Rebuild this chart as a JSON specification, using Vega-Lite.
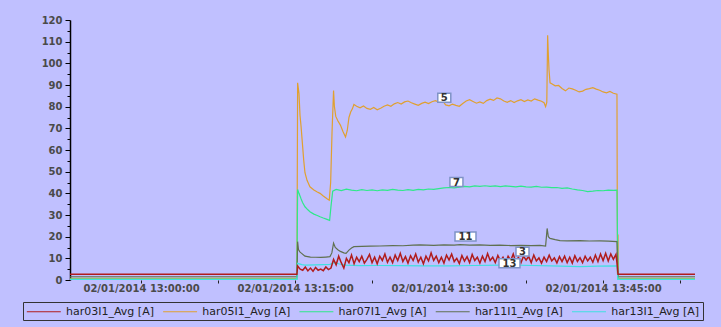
{
  "$schema": "https://vega.github.io/schema/vega-lite/v6.json",
  "width": 625,
  "height": 260,
  "autosize": {"type": "none"},
  "padding": {"left": 70, "top": 20, "right": 26, "bottom": 47},
  "background": "#c0c0ff",
  "config": {
    "view": {"stroke": null},
    "font": "DejaVu Sans"
  },
  "datasets": {
    "h03": [
      {"t": "2014-01-02T12:53:05", "v": 2.6},
      {"t": "2014-01-02T13:15:11", "v": 2.6},
      {"t": "2014-01-02T13:15:15", "v": 6.5},
      {"t": "2014-01-02T13:15:30", "v": 5},
      {"t": "2014-01-02T13:15:45", "v": 4.5},
      {"t": "2014-01-02T13:16:00", "v": 6},
      {"t": "2014-01-02T13:16:15", "v": 4.2},
      {"t": "2014-01-02T13:16:30", "v": 5.5},
      {"t": "2014-01-02T13:16:45", "v": 4},
      {"t": "2014-01-02T13:17:00", "v": 5.8},
      {"t": "2014-01-02T13:17:15", "v": 4.5},
      {"t": "2014-01-02T13:17:30", "v": 5},
      {"t": "2014-01-02T13:17:45", "v": 4.3},
      {"t": "2014-01-02T13:18:00", "v": 6},
      {"t": "2014-01-02T13:18:15", "v": 4.8},
      {"t": "2014-01-02T13:18:30", "v": 5.5},
      {"t": "2014-01-02T13:18:45", "v": 9.5},
      {"t": "2014-01-02T13:19:00", "v": 7},
      {"t": "2014-01-02T13:19:15", "v": 11},
      {"t": "2014-01-02T13:19:30", "v": 8},
      {"t": "2014-01-02T13:19:45", "v": 5.5},
      {"t": "2014-01-02T13:20:00", "v": 10},
      {"t": "2014-01-02T13:20:15", "v": 8},
      {"t": "2014-01-02T13:20:30", "v": 11.5},
      {"t": "2014-01-02T13:20:45", "v": 7.5},
      {"t": "2014-01-02T13:21:00", "v": 10.5},
      {"t": "2014-01-02T13:21:15", "v": 8.5},
      {"t": "2014-01-02T13:21:30", "v": 11},
      {"t": "2014-01-02T13:21:45", "v": 7.8},
      {"t": "2014-01-02T13:22:00", "v": 9.5},
      {"t": "2014-01-02T13:22:15", "v": 11.8},
      {"t": "2014-01-02T13:22:30", "v": 8},
      {"t": "2014-01-02T13:22:45", "v": 10.5},
      {"t": "2014-01-02T13:23:00", "v": 7.5},
      {"t": "2014-01-02T13:23:15", "v": 11},
      {"t": "2014-01-02T13:23:30", "v": 9},
      {"t": "2014-01-02T13:23:45", "v": 12},
      {"t": "2014-01-02T13:24:00", "v": 8.2},
      {"t": "2014-01-02T13:24:15", "v": 10.5},
      {"t": "2014-01-02T13:24:30", "v": 8},
      {"t": "2014-01-02T13:24:45", "v": 11.5},
      {"t": "2014-01-02T13:25:00", "v": 9},
      {"t": "2014-01-02T13:25:15", "v": 12.3},
      {"t": "2014-01-02T13:25:30", "v": 8.5},
      {"t": "2014-01-02T13:25:45", "v": 10.8},
      {"t": "2014-01-02T13:26:00", "v": 7.8},
      {"t": "2014-01-02T13:26:15", "v": 11.2},
      {"t": "2014-01-02T13:26:30", "v": 9},
      {"t": "2014-01-02T13:26:45", "v": 12},
      {"t": "2014-01-02T13:27:00", "v": 8.3},
      {"t": "2014-01-02T13:27:15", "v": 10.5},
      {"t": "2014-01-02T13:27:30", "v": 7.5},
      {"t": "2014-01-02T13:27:45", "v": 11},
      {"t": "2014-01-02T13:28:00", "v": 8.8},
      {"t": "2014-01-02T13:28:15", "v": 12.5},
      {"t": "2014-01-02T13:28:30", "v": 9},
      {"t": "2014-01-02T13:28:45", "v": 11},
      {"t": "2014-01-02T13:29:00", "v": 8},
      {"t": "2014-01-02T13:29:15", "v": 10.5},
      {"t": "2014-01-02T13:29:30", "v": 7.8},
      {"t": "2014-01-02T13:29:45", "v": 11.5},
      {"t": "2014-01-02T13:30:00", "v": 9.2},
      {"t": "2014-01-02T13:30:15", "v": 12},
      {"t": "2014-01-02T13:30:30", "v": 8.5},
      {"t": "2014-01-02T13:30:45", "v": 10},
      {"t": "2014-01-02T13:31:00", "v": 7.6},
      {"t": "2014-01-02T13:31:15", "v": 11.3},
      {"t": "2014-01-02T13:31:30", "v": 8.7},
      {"t": "2014-01-02T13:31:45", "v": 10.8},
      {"t": "2014-01-02T13:32:00", "v": 8},
      {"t": "2014-01-02T13:32:15", "v": 11.8},
      {"t": "2014-01-02T13:32:30", "v": 9},
      {"t": "2014-01-02T13:32:45", "v": 10.5},
      {"t": "2014-01-02T13:33:00", "v": 7.8},
      {"t": "2014-01-02T13:33:15", "v": 11},
      {"t": "2014-01-02T13:33:30", "v": 8.5},
      {"t": "2014-01-02T13:33:45", "v": 12.2},
      {"t": "2014-01-02T13:34:00", "v": 9},
      {"t": "2014-01-02T13:34:15", "v": 10.5},
      {"t": "2014-01-02T13:34:30", "v": 8},
      {"t": "2014-01-02T13:34:45", "v": 11.3},
      {"t": "2014-01-02T13:35:00", "v": 8.8},
      {"t": "2014-01-02T13:35:15", "v": 10.5},
      {"t": "2014-01-02T13:35:30", "v": 7.8},
      {"t": "2014-01-02T13:35:45", "v": 11},
      {"t": "2014-01-02T13:36:00", "v": 9},
      {"t": "2014-01-02T13:36:15", "v": 12},
      {"t": "2014-01-02T13:36:30", "v": 8.3},
      {"t": "2014-01-02T13:36:45", "v": 10.5},
      {"t": "2014-01-02T13:37:00", "v": 7.9},
      {"t": "2014-01-02T13:37:15", "v": 11},
      {"t": "2014-01-02T13:37:30", "v": 9.2},
      {"t": "2014-01-02T13:37:45", "v": 10.8},
      {"t": "2014-01-02T13:38:00", "v": 8},
      {"t": "2014-01-02T13:38:15", "v": 11.5},
      {"t": "2014-01-02T13:38:30", "v": 8.8},
      {"t": "2014-01-02T13:38:45", "v": 10.2},
      {"t": "2014-01-02T13:39:00", "v": 7.8},
      {"t": "2014-01-02T13:39:15", "v": 10.5},
      {"t": "2014-01-02T13:39:30", "v": 8.5},
      {"t": "2014-01-02T13:39:45", "v": 11.5},
      {"t": "2014-01-02T13:40:00", "v": 8.8},
      {"t": "2014-01-02T13:40:15", "v": 10.2},
      {"t": "2014-01-02T13:40:30", "v": 7.9},
      {"t": "2014-01-02T13:40:45", "v": 10.8},
      {"t": "2014-01-02T13:41:00", "v": 8.5},
      {"t": "2014-01-02T13:41:15", "v": 11},
      {"t": "2014-01-02T13:41:30", "v": 8},
      {"t": "2014-01-02T13:41:45", "v": 10.5},
      {"t": "2014-01-02T13:42:00", "v": 7.8},
      {"t": "2014-01-02T13:42:15", "v": 11.2},
      {"t": "2014-01-02T13:42:30", "v": 8.6},
      {"t": "2014-01-02T13:42:45", "v": 10.3},
      {"t": "2014-01-02T13:43:00", "v": 8},
      {"t": "2014-01-02T13:43:15", "v": 11},
      {"t": "2014-01-02T13:43:30", "v": 8.8},
      {"t": "2014-01-02T13:43:45", "v": 10.5},
      {"t": "2014-01-02T13:44:00", "v": 8.2},
      {"t": "2014-01-02T13:44:15", "v": 11.5},
      {"t": "2014-01-02T13:44:30", "v": 8.5},
      {"t": "2014-01-02T13:44:45", "v": 12},
      {"t": "2014-01-02T13:45:00", "v": 9},
      {"t": "2014-01-02T13:45:15", "v": 12.3},
      {"t": "2014-01-02T13:45:30", "v": 8.8},
      {"t": "2014-01-02T13:45:45", "v": 12},
      {"t": "2014-01-02T13:46:00", "v": 9.5},
      {"t": "2014-01-02T13:46:15", "v": 11.8},
      {"t": "2014-01-02T13:46:21", "v": 8},
      {"t": "2014-01-02T13:46:27", "v": 2.6},
      {"t": "2014-01-02T13:53:57", "v": 2.6}
    ],
    "h05": [
      {"t": "2014-01-02T12:53:05", "v": 0.8},
      {"t": "2014-01-02T13:15:11", "v": 0.8},
      {"t": "2014-01-02T13:15:15", "v": 91},
      {"t": "2014-01-02T13:15:23", "v": 86},
      {"t": "2014-01-02T13:15:29", "v": 76},
      {"t": "2014-01-02T13:15:35", "v": 71},
      {"t": "2014-01-02T13:15:44", "v": 62},
      {"t": "2014-01-02T13:15:51", "v": 55},
      {"t": "2014-01-02T13:15:58", "v": 49.5},
      {"t": "2014-01-02T13:16:10", "v": 46},
      {"t": "2014-01-02T13:16:27", "v": 43},
      {"t": "2014-01-02T13:16:50", "v": 41.5},
      {"t": "2014-01-02T13:17:10", "v": 40.6},
      {"t": "2014-01-02T13:17:26", "v": 40},
      {"t": "2014-01-02T13:17:45", "v": 38.8},
      {"t": "2014-01-02T13:18:07", "v": 37.5},
      {"t": "2014-01-02T13:18:20", "v": 36.8},
      {"t": "2014-01-02T13:18:28", "v": 45},
      {"t": "2014-01-02T13:18:36", "v": 68},
      {"t": "2014-01-02T13:18:45", "v": 87.5},
      {"t": "2014-01-02T13:18:50", "v": 80},
      {"t": "2014-01-02T13:18:58", "v": 75.5},
      {"t": "2014-01-02T13:19:10", "v": 73.5},
      {"t": "2014-01-02T13:19:25", "v": 71.5},
      {"t": "2014-01-02T13:19:40", "v": 68.5},
      {"t": "2014-01-02T13:19:55", "v": 66},
      {"t": "2014-01-02T13:20:05", "v": 69},
      {"t": "2014-01-02T13:20:15", "v": 75},
      {"t": "2014-01-02T13:20:25", "v": 77.5},
      {"t": "2014-01-02T13:20:35", "v": 79},
      {"t": "2014-01-02T13:20:44", "v": 81},
      {"t": "2014-01-02T13:21:00", "v": 80.2},
      {"t": "2014-01-02T13:21:20", "v": 79.5},
      {"t": "2014-01-02T13:21:40", "v": 80.3},
      {"t": "2014-01-02T13:22:00", "v": 79.2},
      {"t": "2014-01-02T13:22:20", "v": 78.8},
      {"t": "2014-01-02T13:22:40", "v": 79.6},
      {"t": "2014-01-02T13:23:00", "v": 78.6},
      {"t": "2014-01-02T13:23:20", "v": 79.3},
      {"t": "2014-01-02T13:23:40", "v": 80.2},
      {"t": "2014-01-02T13:24:00", "v": 80.8},
      {"t": "2014-01-02T13:24:20", "v": 80.2},
      {"t": "2014-01-02T13:24:40", "v": 81.3},
      {"t": "2014-01-02T13:25:00", "v": 81.9},
      {"t": "2014-01-02T13:25:20", "v": 81.2},
      {"t": "2014-01-02T13:25:40", "v": 82.2},
      {"t": "2014-01-02T13:26:00", "v": 82.6},
      {"t": "2014-01-02T13:26:20", "v": 81.8},
      {"t": "2014-01-02T13:26:40", "v": 81.2},
      {"t": "2014-01-02T13:27:00", "v": 80.6},
      {"t": "2014-01-02T13:27:20", "v": 81.5},
      {"t": "2014-01-02T13:27:40", "v": 82.1},
      {"t": "2014-01-02T13:28:00", "v": 81.4},
      {"t": "2014-01-02T13:28:20", "v": 82.3},
      {"t": "2014-01-02T13:28:40", "v": 82.8},
      {"t": "2014-01-02T13:29:00", "v": 82.1},
      {"t": "2014-01-02T13:29:20", "v": 83},
      {"t": "2014-01-02T13:29:40", "v": 80.8},
      {"t": "2014-01-02T13:30:00", "v": 80.4},
      {"t": "2014-01-02T13:30:20", "v": 81.2},
      {"t": "2014-01-02T13:30:40", "v": 80.6},
      {"t": "2014-01-02T13:31:00", "v": 80.2},
      {"t": "2014-01-02T13:31:20", "v": 81.5},
      {"t": "2014-01-02T13:31:40", "v": 82.6},
      {"t": "2014-01-02T13:32:00", "v": 83.2},
      {"t": "2014-01-02T13:32:20", "v": 82.4},
      {"t": "2014-01-02T13:32:40", "v": 81.6},
      {"t": "2014-01-02T13:33:00", "v": 82.2},
      {"t": "2014-01-02T13:33:20", "v": 81.5},
      {"t": "2014-01-02T13:33:40", "v": 82.8},
      {"t": "2014-01-02T13:34:00", "v": 83.5},
      {"t": "2014-01-02T13:34:20", "v": 82.9},
      {"t": "2014-01-02T13:34:40", "v": 84},
      {"t": "2014-01-02T13:35:00", "v": 83.6},
      {"t": "2014-01-02T13:35:20", "v": 82.6},
      {"t": "2014-01-02T13:35:40", "v": 82},
      {"t": "2014-01-02T13:36:00", "v": 82.8},
      {"t": "2014-01-02T13:36:20", "v": 81.9},
      {"t": "2014-01-02T13:36:40", "v": 82.7},
      {"t": "2014-01-02T13:37:00", "v": 83.2},
      {"t": "2014-01-02T13:37:20", "v": 82.4},
      {"t": "2014-01-02T13:37:40", "v": 83.1},
      {"t": "2014-01-02T13:38:00", "v": 82.6},
      {"t": "2014-01-02T13:38:20", "v": 83.6},
      {"t": "2014-01-02T13:38:40", "v": 83},
      {"t": "2014-01-02T13:39:00", "v": 82.5},
      {"t": "2014-01-02T13:39:15", "v": 81.8},
      {"t": "2014-01-02T13:39:24", "v": 80},
      {"t": "2014-01-02T13:39:31", "v": 82},
      {"t": "2014-01-02T13:39:36", "v": 113},
      {"t": "2014-01-02T13:39:40", "v": 104},
      {"t": "2014-01-02T13:39:44", "v": 97},
      {"t": "2014-01-02T13:39:50", "v": 91},
      {"t": "2014-01-02T13:40:00", "v": 90.6},
      {"t": "2014-01-02T13:40:20", "v": 89.6},
      {"t": "2014-01-02T13:40:40", "v": 89.8},
      {"t": "2014-01-02T13:41:00", "v": 88.4},
      {"t": "2014-01-02T13:41:20", "v": 87.3},
      {"t": "2014-01-02T13:41:40", "v": 88.6},
      {"t": "2014-01-02T13:42:00", "v": 88.2},
      {"t": "2014-01-02T13:42:20", "v": 87.6},
      {"t": "2014-01-02T13:42:40", "v": 86.8},
      {"t": "2014-01-02T13:43:00", "v": 87.2},
      {"t": "2014-01-02T13:43:20", "v": 88},
      {"t": "2014-01-02T13:43:40", "v": 88.3},
      {"t": "2014-01-02T13:44:00", "v": 88.8},
      {"t": "2014-01-02T13:44:20", "v": 88.1},
      {"t": "2014-01-02T13:44:40", "v": 87.6},
      {"t": "2014-01-02T13:45:00", "v": 86.8},
      {"t": "2014-01-02T13:45:20", "v": 86.4},
      {"t": "2014-01-02T13:45:40", "v": 87},
      {"t": "2014-01-02T13:46:00", "v": 86.2},
      {"t": "2014-01-02T13:46:21", "v": 85.8},
      {"t": "2014-01-02T13:46:24", "v": 3},
      {"t": "2014-01-02T13:46:27", "v": 21},
      {"t": "2014-01-02T13:46:30", "v": 0.8},
      {"t": "2014-01-02T13:53:57", "v": 0.8}
    ],
    "h07": [
      {"t": "2014-01-02T12:53:05", "v": 0.4},
      {"t": "2014-01-02T13:15:11", "v": 0.4},
      {"t": "2014-01-02T13:15:15", "v": 41.8},
      {"t": "2014-01-02T13:15:23", "v": 40},
      {"t": "2014-01-02T13:15:35", "v": 37.5},
      {"t": "2014-01-02T13:15:44", "v": 35.8},
      {"t": "2014-01-02T13:15:58", "v": 33.8},
      {"t": "2014-01-02T13:16:15", "v": 32.4},
      {"t": "2014-01-02T13:16:27", "v": 31.5},
      {"t": "2014-01-02T13:16:50", "v": 30.4},
      {"t": "2014-01-02T13:17:10", "v": 29.8},
      {"t": "2014-01-02T13:17:26", "v": 29.2},
      {"t": "2014-01-02T13:17:45", "v": 28.6},
      {"t": "2014-01-02T13:18:07", "v": 28},
      {"t": "2014-01-02T13:18:22", "v": 27.5},
      {"t": "2014-01-02T13:18:30", "v": 34},
      {"t": "2014-01-02T13:18:40", "v": 41},
      {"t": "2014-01-02T13:19:00", "v": 41.8},
      {"t": "2014-01-02T13:19:30", "v": 41.3},
      {"t": "2014-01-02T13:20:00", "v": 41.9},
      {"t": "2014-01-02T13:20:30", "v": 41.5},
      {"t": "2014-01-02T13:21:00", "v": 41.2},
      {"t": "2014-01-02T13:21:30", "v": 41.7},
      {"t": "2014-01-02T13:22:00", "v": 41.3},
      {"t": "2014-01-02T13:22:30", "v": 41.6},
      {"t": "2014-01-02T13:23:00", "v": 41.2},
      {"t": "2014-01-02T13:23:30", "v": 41.6},
      {"t": "2014-01-02T13:24:00", "v": 41.4},
      {"t": "2014-01-02T13:24:30", "v": 41.8},
      {"t": "2014-01-02T13:25:00", "v": 41.5},
      {"t": "2014-01-02T13:25:30", "v": 41.3},
      {"t": "2014-01-02T13:26:00", "v": 41.7},
      {"t": "2014-01-02T13:26:30", "v": 41.4},
      {"t": "2014-01-02T13:27:00", "v": 41.8},
      {"t": "2014-01-02T13:27:30", "v": 41.6},
      {"t": "2014-01-02T13:28:00", "v": 42},
      {"t": "2014-01-02T13:28:30", "v": 41.8},
      {"t": "2014-01-02T13:29:00", "v": 42.2},
      {"t": "2014-01-02T13:29:30", "v": 42.5},
      {"t": "2014-01-02T13:30:00", "v": 42.7},
      {"t": "2014-01-02T13:30:30", "v": 42.5},
      {"t": "2014-01-02T13:31:00", "v": 42.9},
      {"t": "2014-01-02T13:31:30", "v": 43.2},
      {"t": "2014-01-02T13:32:00", "v": 43},
      {"t": "2014-01-02T13:32:30", "v": 43.4},
      {"t": "2014-01-02T13:33:00", "v": 43.2},
      {"t": "2014-01-02T13:33:30", "v": 43.5},
      {"t": "2014-01-02T13:34:00", "v": 43.2},
      {"t": "2014-01-02T13:34:30", "v": 43.4},
      {"t": "2014-01-02T13:35:00", "v": 43.1},
      {"t": "2014-01-02T13:35:30", "v": 43.4},
      {"t": "2014-01-02T13:36:00", "v": 43.2},
      {"t": "2014-01-02T13:36:30", "v": 43},
      {"t": "2014-01-02T13:37:00", "v": 43.3},
      {"t": "2014-01-02T13:37:30", "v": 43},
      {"t": "2014-01-02T13:38:00", "v": 42.9},
      {"t": "2014-01-02T13:38:30", "v": 43.2},
      {"t": "2014-01-02T13:39:00", "v": 42.8},
      {"t": "2014-01-02T13:39:30", "v": 42.9},
      {"t": "2014-01-02T13:40:00", "v": 42.6},
      {"t": "2014-01-02T13:40:30", "v": 42.7},
      {"t": "2014-01-02T13:41:00", "v": 42.3},
      {"t": "2014-01-02T13:41:30", "v": 42.5},
      {"t": "2014-01-02T13:42:00", "v": 42},
      {"t": "2014-01-02T13:42:30", "v": 41.6},
      {"t": "2014-01-02T13:43:00", "v": 41.3},
      {"t": "2014-01-02T13:43:30", "v": 40.8},
      {"t": "2014-01-02T13:44:00", "v": 41},
      {"t": "2014-01-02T13:44:30", "v": 41.3},
      {"t": "2014-01-02T13:45:00", "v": 41.2},
      {"t": "2014-01-02T13:45:30", "v": 41.5},
      {"t": "2014-01-02T13:46:00", "v": 41.4},
      {"t": "2014-01-02T13:46:21", "v": 41.5},
      {"t": "2014-01-02T13:46:27", "v": 0.4},
      {"t": "2014-01-02T13:53:57", "v": 0.4}
    ],
    "h11": [
      {"t": "2014-01-02T12:53:05", "v": 1.5},
      {"t": "2014-01-02T13:15:11", "v": 1.5},
      {"t": "2014-01-02T13:15:15", "v": 17.7},
      {"t": "2014-01-02T13:15:20", "v": 14},
      {"t": "2014-01-02T13:15:28", "v": 13},
      {"t": "2014-01-02T13:15:35", "v": 12.5},
      {"t": "2014-01-02T13:15:58", "v": 11},
      {"t": "2014-01-02T13:16:30", "v": 10.6},
      {"t": "2014-01-02T13:17:00", "v": 10.5},
      {"t": "2014-01-02T13:17:30", "v": 10.4},
      {"t": "2014-01-02T13:18:00", "v": 10.6},
      {"t": "2014-01-02T13:18:24", "v": 10.8},
      {"t": "2014-01-02T13:18:35", "v": 12.5},
      {"t": "2014-01-02T13:18:45", "v": 17},
      {"t": "2014-01-02T13:18:55", "v": 15},
      {"t": "2014-01-02T13:19:10", "v": 14},
      {"t": "2014-01-02T13:19:25", "v": 13.2},
      {"t": "2014-01-02T13:19:45", "v": 12.5},
      {"t": "2014-01-02T13:19:58", "v": 12.3},
      {"t": "2014-01-02T13:20:15", "v": 13.8},
      {"t": "2014-01-02T13:20:30", "v": 14.8},
      {"t": "2014-01-02T13:20:44", "v": 15.4},
      {"t": "2014-01-02T13:21:30", "v": 15.5},
      {"t": "2014-01-02T13:22:20", "v": 15.6},
      {"t": "2014-01-02T13:23:16", "v": 15.7},
      {"t": "2014-01-02T13:24:30", "v": 15.9},
      {"t": "2014-01-02T13:25:30", "v": 15.8},
      {"t": "2014-01-02T13:26:30", "v": 16.1},
      {"t": "2014-01-02T13:27:10", "v": 16.2},
      {"t": "2014-01-02T13:28:30", "v": 16},
      {"t": "2014-01-02T13:29:30", "v": 16.2},
      {"t": "2014-01-02T13:30:30", "v": 16.1},
      {"t": "2014-01-02T13:31:04", "v": 16.3},
      {"t": "2014-01-02T13:32:00", "v": 16.1},
      {"t": "2014-01-02T13:33:00", "v": 16.2},
      {"t": "2014-01-02T13:34:00", "v": 16},
      {"t": "2014-01-02T13:34:57", "v": 16.1},
      {"t": "2014-01-02T13:36:00", "v": 15.9},
      {"t": "2014-01-02T13:37:00", "v": 16},
      {"t": "2014-01-02T13:38:00", "v": 15.9},
      {"t": "2014-01-02T13:38:51", "v": 16},
      {"t": "2014-01-02T13:39:24", "v": 15.7},
      {"t": "2014-01-02T13:39:33", "v": 23.8},
      {"t": "2014-01-02T13:39:40", "v": 20},
      {"t": "2014-01-02T13:39:50", "v": 19.2},
      {"t": "2014-01-02T13:40:20", "v": 18.6},
      {"t": "2014-01-02T13:40:48", "v": 18.2},
      {"t": "2014-01-02T13:41:30", "v": 18.1},
      {"t": "2014-01-02T13:42:45", "v": 18.2},
      {"t": "2014-01-02T13:43:40", "v": 18},
      {"t": "2014-01-02T13:44:42", "v": 18.1},
      {"t": "2014-01-02T13:45:30", "v": 17.9},
      {"t": "2014-01-02T13:46:21", "v": 17.7},
      {"t": "2014-01-02T13:46:27", "v": 1.5},
      {"t": "2014-01-02T13:53:57", "v": 1.5}
    ],
    "h13": [
      {"t": "2014-01-02T12:53:05", "v": 0.2},
      {"t": "2014-01-02T13:15:11", "v": 0.2},
      {"t": "2014-01-02T13:15:15", "v": 7.7},
      {"t": "2014-01-02T13:15:40", "v": 7.1},
      {"t": "2014-01-02T13:15:58", "v": 6.9},
      {"t": "2014-01-02T13:17:00", "v": 7},
      {"t": "2014-01-02T13:18:24", "v": 7.2},
      {"t": "2014-01-02T13:18:47", "v": 8},
      {"t": "2014-01-02T13:19:20", "v": 7.4},
      {"t": "2014-01-02T13:19:58", "v": 6.9},
      {"t": "2014-01-02T13:21:19", "v": 6.6},
      {"t": "2014-01-02T13:23:00", "v": 6.7},
      {"t": "2014-01-02T13:25:13", "v": 6.6},
      {"t": "2014-01-02T13:27:30", "v": 6.5},
      {"t": "2014-01-02T13:30:05", "v": 6.5},
      {"t": "2014-01-02T13:32:30", "v": 6.7},
      {"t": "2014-01-02T13:34:57", "v": 6.9},
      {"t": "2014-01-02T13:37:00", "v": 6.8},
      {"t": "2014-01-02T13:39:55", "v": 6.5},
      {"t": "2014-01-02T13:42:45", "v": 6.2},
      {"t": "2014-01-02T13:44:30", "v": 6.4},
      {"t": "2014-01-02T13:46:21", "v": 6.5},
      {"t": "2014-01-02T13:46:27", "v": 0.2},
      {"t": "2014-01-02T13:53:57", "v": 0.2}
    ],
    "labels": [
      {"t": "2014-01-02T13:29:32", "v": 84.1, "label": "5"},
      {"t": "2014-01-02T13:30:43", "v": 45.2, "label": "7"},
      {"t": "2014-01-02T13:31:36", "v": 20.1, "label": "11"},
      {"t": "2014-01-02T13:37:09", "v": 13.1, "label": "3"},
      {"t": "2014-01-02T13:35:53", "v": 7.7, "label": "13"}
    ]
  },
  "encoding": {
    "x": {
      "field": "t",
      "type": "temporal",
      "title": null,
      "scale": {
        "domain": [
          {"year": 2014, "month": 1, "date": 2, "hours": 12, "minutes": 53, "seconds": 5},
          {"year": 2014, "month": 1, "date": 2, "hours": 13, "minutes": 53, "seconds": 57}
        ]
      },
      "axis": {
        "values": [
          {"year": 2014, "month": 1, "date": 2, "hours": 13, "minutes": 0, "seconds": 0},
          {"year": 2014, "month": 1, "date": 2, "hours": 13, "minutes": 7, "seconds": 30},
          {"year": 2014, "month": 1, "date": 2, "hours": 13, "minutes": 15, "seconds": 0},
          {"year": 2014, "month": 1, "date": 2, "hours": 13, "minutes": 22, "seconds": 30},
          {"year": 2014, "month": 1, "date": 2, "hours": 13, "minutes": 30, "seconds": 0},
          {"year": 2014, "month": 1, "date": 2, "hours": 13, "minutes": 37, "seconds": 30},
          {"year": 2014, "month": 1, "date": 2, "hours": 13, "minutes": 45, "seconds": 0},
          {"year": 2014, "month": 1, "date": 2, "hours": 13, "minutes": 52, "seconds": 30}
        ],
        "labelExpr": "seconds(datum.value) == 0 ? timeFormat(datum.value, '%d/%m/%Y %H:%M:%S') : ''",
        "domain": false,
        "grid": false,
        "tickColor": "#222222",
        "tickSize": 3,
        "labelPadding": 0,
        "labelFont": "DejaVu Sans",
        "labelFontSize": 10,
        "labelFontWeight": "bold",
        "labelColor": "#4a4a4a",
        "labelFlush": false,
        "labelOverlap": false
      }
    },
    "y": {
      "field": "v",
      "type": "quantitative",
      "title": null,
      "scale": {"domain": [0, 120], "nice": false},
      "axis": {
        "values": [0, 5, 10, 15, 20, 25, 30, 35, 40, 45, 50, 55, 60, 65, 70, 75, 80, 85, 90, 95, 100, 105, 110, 115, 120],
        "labelExpr": "datum.value % 10 == 0 ? datum.label : ''",
        "grid": false,
        "domainColor": "#000000",
        "domainWidth": 1.5,
        "tickColor": "#000000",
        "tickSize": {"condition": {"test": "datum.value % 10 == 0", "value": 5}, "value": 3},
        "labelPadding": 3,
        "labelFont": "DejaVu Sans",
        "labelFontSize": 10,
        "labelFontWeight": "bold",
        "labelColor": "#4a4a4a",
        "labelOverlap": false
      }
    }
  },
  "layer": [
    {
      "data": {"name": "h05"},
      "mark": {"type": "line", "strokeWidth": 1.2, "clip": true},
      "encoding": {"color": {"datum": "har05I1_Avg [A]"}}
    },
    {
      "data": {"name": "h07"},
      "mark": {"type": "line", "strokeWidth": 1.2, "clip": true},
      "encoding": {"color": {"datum": "har07I1_Avg [A]"}}
    },
    {
      "data": {"name": "h11"},
      "mark": {"type": "line", "strokeWidth": 1.2, "clip": true},
      "encoding": {"color": {"datum": "har11I1_Avg [A]"}}
    },
    {
      "data": {"name": "h13"},
      "mark": {"type": "line", "strokeWidth": 1.2, "clip": true},
      "encoding": {"color": {"datum": "har13I1_Avg [A]"}}
    },
    {
      "data": {"name": "h03"},
      "mark": {"type": "line", "strokeWidth": 1.5, "clip": true},
      "encoding": {
        "color": {
          "datum": "har03I1_Avg [A]",
          "scale": {
            "domain": ["har03I1_Avg [A]", "har05I1_Avg [A]", "har07I1_Avg [A]", "har11I1_Avg [A]", "har13I1_Avg [A]"],
            "range": ["#b01c1c", "#e0a030", "#2ee88a", "#5f7050", "#40e0e0"]
          },
          "legend": {
            "orient": "none",
            "legendX": -47,
            "legendY": 282,
            "direction": "horizontal",
            "columns": 5,
            "title": null,
            "symbolType": "M-3,0L3,0",
            "symbolSize": 128,
            "symbolOffset": 11.3,
            "symbolStrokeWidth": 1.2,
            "labelFont": "DejaVu Sans",
            "labelFontSize": 11,
            "labelColor": "#222222",
            "labelOffset": 15.7,
            "columnPadding": 6.3,
            "rowPadding": 0,
            "padding": 3,
            "strokeColor": "#333333",
            "cornerRadius": 0
          }
        }
      }
    },
    {
      "data": {"name": "labels"},
      "mark": {"type": "point", "filled": true, "fill": "#ffffff", "stroke": "#7f93c6", "strokeWidth": 1.5, "opacity": 1, "size": 196},
      "encoding": {
        "shape": {
          "field": "label",
          "type": "nominal",
          "scale": {
            "domain": ["5", "7", "3", "11", "13"],
            "range": ["M-0.93,-0.64L0.93,-0.64L0.93,0.64L-0.93,0.64Z", "M-0.93,-0.64L0.93,-0.64L0.93,0.64L-0.93,0.64Z", "M-0.93,-0.64L0.93,-0.64L0.93,0.64L-0.93,0.64Z", "M-1.5,-0.64L1.5,-0.64L1.5,0.64L-1.5,0.64Z", "M-1.5,-0.64L1.5,-0.64L1.5,0.64L-1.5,0.64Z"]
          },
          "legend": null
        }
      }
    },
    {
      "data": {"name": "labels"},
      "mark": {"type": "text", "font": "DejaVu Sans", "fontSize": 10, "fontWeight": "bold", "color": "#333333", "align": "center", "baseline": "middle", "dy": 0.5},
      "encoding": {"text": {"field": "label", "type": "nominal"}}
    }
  ]
}
